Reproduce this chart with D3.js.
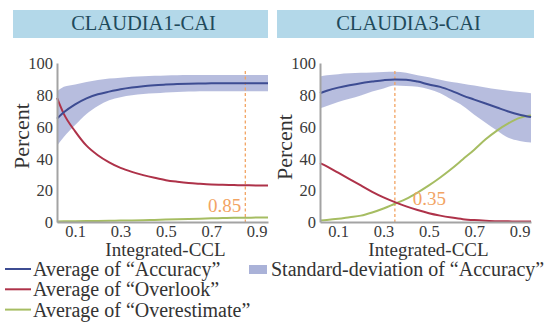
<!DOCTYPE html>
<html>
<head>
<meta charset="utf-8">
<script src="https://cdn.jsdelivr.net/npm/d3@7"></script>
<style>
  body { margin: 0; background: #fff; }
  svg text { font-family: "Liberation Serif", "DejaVu Serif", Tinos, "Times New Roman", Times, serif; }
</style>
</head>
<body>
<svg width="554" height="329"></svg>
<script>
const svg = d3.select("svg");
const serif = "'Liberation Serif', 'DejaVu Serif', Tinos, 'Times New Roman', Times, serif";

// data
const ccl = [0.02, 0.05, 0.1, 0.15, 0.2, 0.25, 0.3, 0.35, 0.4, 0.45, 0.5, 0.55, 0.6, 0.65, 0.7, 0.75, 0.8, 0.85, 0.9, 0.95];
const xTicks = [0.1, 0.3, 0.5, 0.7, 0.9];
const yTicks = [0, 20, 40, 60, 80, 100];

const acc1 = [65, 69, 74, 77.8, 80.3, 82, 83.5, 84.6, 85.4, 86, 86.5, 86.8, 87, 87.1, 87.2, 87.3, 87.3, 87.3, 87.3, 87.3];
const accHi1 = [82, 85, 86.5, 88, 89.3, 90.2, 90.8, 91.3, 91.7, 92, 92.2, 92.3, 92.4, 92.4, 92.4, 92.4, 92.4, 92.4, 92.4, 92.4];
const accLo1 = [48, 53.5, 61, 68, 73, 76.5, 78.5, 79.7, 80.5, 81, 81.5, 81.8, 82, 82.2, 82.3, 82.3, 82.3, 82.3, 82.3, 82.3];
const overlook1 = [78, 68, 57, 48, 42, 37.5, 34, 31.5, 29.5, 27.8, 26.3, 25.3, 24.5, 24, 23.6, 23.4, 23.2, 23.1, 23, 23];
const overest1 = [0.3, 0.4, 0.5, 0.6, 0.7, 0.8, 0.9, 1, 1.1, 1.3, 1.5, 1.7, 1.9, 2.1, 2.3, 2.5, 2.6, 2.7, 2.8, 2.9];

const acc3 = [81, 82.5, 84.5, 86, 87.3, 88.3, 89.2, 89.7, 89.5, 88.3, 86.5, 85, 82.5, 79.5, 77, 74.5, 72, 69.5, 67.5, 66];
const accHi3 = [91.5, 92.3, 93, 93.5, 93.8, 94, 94.3, 94.5, 93.8, 92.3, 91, 89.5, 88, 87, 85.8, 84.6, 83.5, 82.5, 81.7, 81];
const accLo3 = [71.5, 73, 75.5, 77.5, 79.5, 82, 84, 85.8, 85.5, 85, 83.5, 81, 77, 73, 67.5, 62.5, 57.5, 53, 51, 50];
const overlook3 = [37, 35, 31, 27, 23, 19, 15.5, 12.5, 9.8, 7.5, 5.5, 4, 2.8, 1.8, 1.2, 0.8, 0.5, 0.4, 0.3, 0.3];
const overest3 = [1, 1.3, 2, 3, 4, 6, 8.5, 11.5, 14.5, 18.5, 23, 28, 33.5, 39.5, 45.5, 52, 57.5, 62, 65.5, 67];

const panels = [
  { title: "CLAUDIA1-CAI", acc: acc1, hi: accHi1, lo: accLo1, overlook: overlook1, overest: overest1,
    cut: 0.85, left: 57, right: 268, barX: 13, barW: 255, labelY: 136, cutSide: "left" },
  { title: "CLAUDIA3-CAI", acc: acc3, hi: accHi3, lo: accLo3, overlook: overlook3, overest: overest3,
    cut: 0.35, left: 320, right: 531, barX: 277, barW: 257, labelY: 147, cutSide: "right" }
];

const colors = { acc: "#3d4c92", band: "#aab2d8", overlook: "#ae3249", overest: "#a6bd62", cut: "#f2a463" };

const y = d3.scaleLinear().domain([0, 100]).range([222, 63]);

panels.forEach(function (p) {
  const x = d3.scaleLinear().domain([0.02, 0.95]).range([p.left, p.right]);
  const g = svg.append("g");

  // title bar
  g.append("rect").attr("x", p.barX).attr("y", 10).attr("width", p.barW).attr("height", 28)
    .attr("fill", "#b3d8e9");
  g.append("text").attr("x", p.barX + p.barW / 2 + 3).attr("y", 30)
    .attr("text-anchor", "middle").attr("font-size", 20.5).attr("fill", "#1f4a5b")
    .text(p.title);

  // std band
  const area = d3.area()
    .x(function (d, i) { return x(ccl[i]); })
    .y0(function (d, i) { return y(p.lo[i]); })
    .y1(function (d, i) { return y(p.hi[i]); })
    .curve(d3.curveMonotoneX);
  g.append("path").datum(p.acc).attr("d", area).attr("fill", colors.band).attr("opacity", 0.85);

  const line = function (vals) {
    return d3.line()
      .x(function (d, i) { return x(ccl[i]); })
      .y(function (d) { return y(d); })
      .curve(d3.curveMonotoneX)(vals);
  };

  // cut line
  g.append("line").attr("x1", x(p.cut)).attr("x2", x(p.cut))
    .attr("y1", y(95)).attr("y2", y(0))
    .attr("stroke", colors.cut).attr("stroke-width", 1.3).attr("stroke-dasharray", "3,2.5");

  g.append("path").attr("d", line(p.overest)).attr("fill", "none").attr("stroke", colors.overest).attr("stroke-width", 2);
  g.append("path").attr("d", line(p.overlook)).attr("fill", "none").attr("stroke", colors.overlook).attr("stroke-width", 2);
  g.append("path").attr("d", line(p.acc)).attr("fill", "none").attr("stroke", colors.acc).attr("stroke-width", 2);

  g.append("text")
    .attr("x", p.cutSide === "left" ? x(p.cut) - 4 : x(p.cut) + 18)
    .attr("y", p.cutSide === "left" ? 212 : 205)
    .attr("text-anchor", p.cutSide === "left" ? "end" : "start")
    .attr("font-size", 19).attr("fill", colors.cut)
    .text(p.cut.toFixed(2));

  // axes
  const yAxis = g.append("g").attr("transform", "translate(" + p.left + ",0)")
    .call(d3.axisLeft(y).tickValues(yTicks).tickSize(0).tickPadding(4));
  const xAxis = g.append("g").attr("transform", "translate(0,222)")
    .call(d3.axisBottom(x).tickValues(xTicks).tickSize(0).tickPadding(3).tickFormat(d3.format(".1f")));
  [yAxis, xAxis].forEach(function (a) {
    a.attr("font-family", serif);
    a.select(".domain").attr("stroke", "#a3a3a3").attr("stroke-width", 2);
    a.selectAll("text").attr("font-size", 16.5).attr("fill", "#3a3a3a");
  });
  yAxis.selectAll("text").attr("dy", "0.35em");
  xAxis.selectAll("text").attr("dy", "0.7em");

  g.append("text").attr("x", (p.left + p.right) / 2 + 3).attr("y", 256)
    .attr("text-anchor", "middle").attr("font-size", 19).attr("fill", "#333")
    .text("Integrated-CCL");
  g.append("text")
    .attr("transform", "translate(" + (p.left - 28) + "," + p.labelY + ") rotate(-90)")
    .attr("text-anchor", "middle").attr("font-size", 22).attr("fill", "#333")
    .text("Percent");
});

// legend
const legendNames = ["Average of \u201CAccuracy\u201D", "Average of \u201COverlook\u201D", "Average of \u201COverestimate\u201D"];
const legendColors = [colors.acc, colors.overlook, colors.overest];
const legend = svg.append("g");
legendNames.forEach(function (name, i) {
  const ly = 276 + i * 20.3;
  legend.append("line").attr("x1", 5).attr("x2", 31).attr("y1", ly - 7).attr("y2", ly - 7)
    .attr("stroke", legendColors[i]).attr("stroke-width", 2);
  legend.append("text").attr("x", 33).attr("y", ly).attr("font-size", 20).attr("fill", "#333").text(name);
});
legend.append("rect").attr("x", 249).attr("y", 265).attr("width", 18).attr("height", 9).attr("fill", colors.band);
legend.append("text").attr("x", 271).attr("y", 276).attr("font-size", 20).attr("fill", "#333")
  .text("Standard-deviation of \u201CAccuracy\u201D");
</script>
</body>
</html>
